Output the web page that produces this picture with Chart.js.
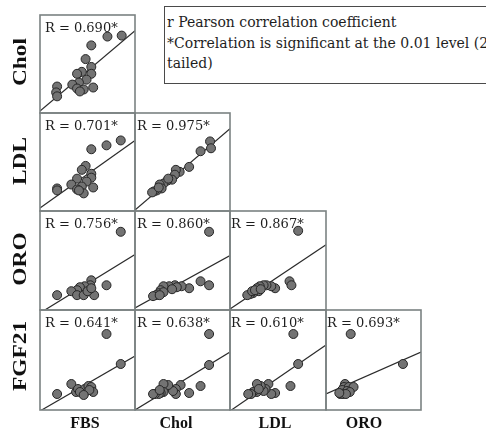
<!DOCTYPE html>
<html>
<head>
<meta charset="utf-8">
<script src="https://cdn.jsdelivr.net/npm/chart.js@4.4.1/dist/chart.umd.min.js"></script>
<style>
  html, body { margin: 0; padding: 0; background: #fff; }
  body { width: 486px; height: 431px; position: relative; overflow: hidden; }
  .panel { position: absolute; display: block; }
  .rlabel { position: absolute; font: 13px "DejaVu Serif", serif; color: #1e1e1e; white-space: nowrap; line-height: 16px; }
  .collabel { position: absolute; font: bold 16px "Liberation Serif", serif; color: #111; white-space: nowrap; transform: translate(-50%, -50%); }
  .rowlabel { position: absolute; font: bold 18px "Liberation Serif", serif; color: #111; white-space: nowrap; transform: translate(-50%, -50%) rotate(-90deg) scaleX(1.3); }
  .note { position: absolute; left: 164px; top: 6px; width: 340px; height: 71px; border: 1px solid #4a4a4a;
          font: 14px "DejaVu Serif", serif; color: #1e1e1e; line-height: 20.5px; padding: 5px 0 0 2px; white-space: nowrap; }
</style>
</head>
<body>
<div class="note">r Pearson correlation coefficient<br>*Correlation is significant at the 0.01 level (2-<br>tailed)</div>
<script>
// Variables of the correlation matrix
const variables = ['FBS', 'Chol', 'LDL', 'ORO', 'FGF21'];

// Scatter values for each pair, [x, y], each axis scaled 0-100
const fbsChol = [[86,79],[71,78],[54,69],[48,55],[54,47],[44,42],[39,40],[54,40],[49,34],[41,31],[34,29],[39,25],[46,24],[56,26],[18,27],[17,21],[18,17],[42,22]];
const fbsLdl = [[85,72],[70,67],[54,63],[48,46],[44,42],[54,38],[39,33],[54,34],[49,30],[33,27],[44,25],[39,22],[46,18],[56,24],[18,23],[18,21],[41,21]];
const cholLdl = [[79,71],[80,64],[69,61],[57,45],[47,40],[43,42],[42,37],[39,32],[34,31],[30,28],[26,27],[28,23],[23,21],[20,20],[18,19],[25,24],[35,33]];
const fbsOro = [[85,79],[70,25],[57,15],[54,30],[53,25],[47,24],[42,23],[39,20],[33,19],[39,15],[46,15],[50,19],[18,15],[54,22]];
const cholOro = [[78,79],[69,29],[78,25],[57,22],[49,24],[42,25],[36,24],[30,24],[27,20],[44,23],[39,21],[25,17],[30,18],[22,15],[19,14],[26,15]];
const ldlOro = [[71,80],[62,29],[64,25],[47,22],[43,24],[38,25],[35,25],[31,24],[28,22],[30,19],[24,17],[21,16],[18,15],[23,19],[26,20],[32,21]];
const fbsFgf21 = [[70,76],[85,46],[33,26],[18,16],[38,18],[40,21],[46,16],[47,21],[51,24],[54,23],[56,18],[52,20],[42,18],[46,15]];
const cholFgf21 = [[78,76],[78,45],[69,24],[57,17],[48,25],[43,21],[43,16],[40,19],[35,25],[30,26],[30,18],[27,17],[25,16],[21,16],[19,16],[26,20]];
const ldlFgf21 = [[66,76],[71,46],[63,24],[47,17],[43,16],[40,26],[37,21],[35,19],[32,24],[28,26],[28,18],[24,18],[22,16],[19,16],[30,21]];
const oroFgf21 = [[26,76],[81,46],[20,26],[19,23],[24,23],[29,23],[17,20],[22,19],[25,18],[15,16],[18,16],[21,16],[14,17]];

// Pearson r for each pair, same order as the panels below
const rValues = ['0.690', '0.701', '0.975', '0.756', '0.860', '0.867', '0.641', '0.638', '0.610', '0.693'];

// Fitted regression line for each pair: y at x = 0 and y at x = 100
const fitEnds = [[2,84],[3,72],[1,84],[-3,56],[2,55],[1,66],[-1,54],[0,58],[-1,65],[16,58]];

// Panels of the lower triangle: [row variable index, column variable index, values]
const panels = [
  [1, 0, fbsChol],
  [2, 0, fbsLdl], [2, 1, cholLdl],
  [3, 0, fbsOro], [3, 1, cholOro], [3, 2, ldlOro],
  [4, 0, fbsFgf21], [4, 1, cholFgf21], [4, 2, ldlFgf21], [4, 3, oroFgf21]
];

// Grid geometry (pixels)
const colEdges = [40, 135, 230, 326, 421];
const rowEdges = [15, 113, 211, 310, 410];
const pad = 2;
const labelInset = [5, 2, 1, 1];
const colLabelX = [85, 176, 275, 364];
const rowLabelY = [62, 161, 259, 356];

const frame = {
  id: 'frame',
  afterDraw(chart) {
    const { ctx, chartArea: a } = chart;
    ctx.save();
    ctx.strokeStyle = '#7b8282';
    ctx.lineWidth = 1.6;
    ctx.strokeRect(a.left, a.top, a.right - a.left, a.bottom - a.top);
    ctx.restore();
  }
};

panels.forEach(([row, col, values], i) => {
  const left = colEdges[col], right = colEdges[col + 1];
  const top = rowEdges[row - 1], bottom = rowEdges[row];
  const canvas = document.createElement('canvas');
  canvas.className = 'panel';
  canvas.width = right - left + 2 * pad;
  canvas.height = bottom - top + 2 * pad;
  canvas.style.left = (left - pad) + 'px';
  canvas.style.top = (top - pad) + 'px';
  canvas.style.width = canvas.width + 'px';
  canvas.style.height = canvas.height + 'px';
  document.body.appendChild(canvas);

  new Chart(canvas, {
    type: 'scatter',
    data: {
      datasets: [
        {
          type: 'line',
          data: [{ x: 0, y: fitEnds[i][0] }, { x: 100, y: fitEnds[i][1] }],
          borderColor: '#2b2b2b',
          borderWidth: 1.2,
          pointRadius: 0,
          order: 2
        },
        {
          data: values.map(([x, y]) => ({ x, y })),
          backgroundColor: '#737373',
          borderColor: '#262626',
          borderWidth: 1,
          pointRadius: 4.5,
          order: 1
        }
      ]
    },
    options: {
      responsive: false,
      animation: false,
      events: [],
      layout: { padding: pad, autoPadding: false },
      plugins: { legend: { display: false }, tooltip: { enabled: false } },
      scales: {
        x: { type: 'linear', min: 0, max: 100, display: false },
        y: { type: 'linear', min: 0, max: 100, display: false }
      }
    },
    plugins: [frame]
  });

  const label = document.createElement('div');
  label.className = 'rlabel';
  label.textContent = 'R = ' + rValues[i] + '*';
  label.style.left = (left + labelInset[col]) + 'px';
  label.style.top = (top + 5) + 'px';
  document.body.appendChild(label);
});

variables.slice(0, 4).forEach((name, c) => {
  const d = document.createElement('div');
  d.className = 'collabel';
  d.textContent = name;
  d.style.left = colLabelX[c] + 'px';
  d.style.top = '423px';
  document.body.appendChild(d);
});

variables.slice(1).forEach((name, r) => {
  const d = document.createElement('div');
  d.className = 'rowlabel';
  d.textContent = name;
  d.style.left = '20px';
  d.style.top = rowLabelY[r] + 'px';
  document.body.appendChild(d);
});
</script>
</body>
</html>
